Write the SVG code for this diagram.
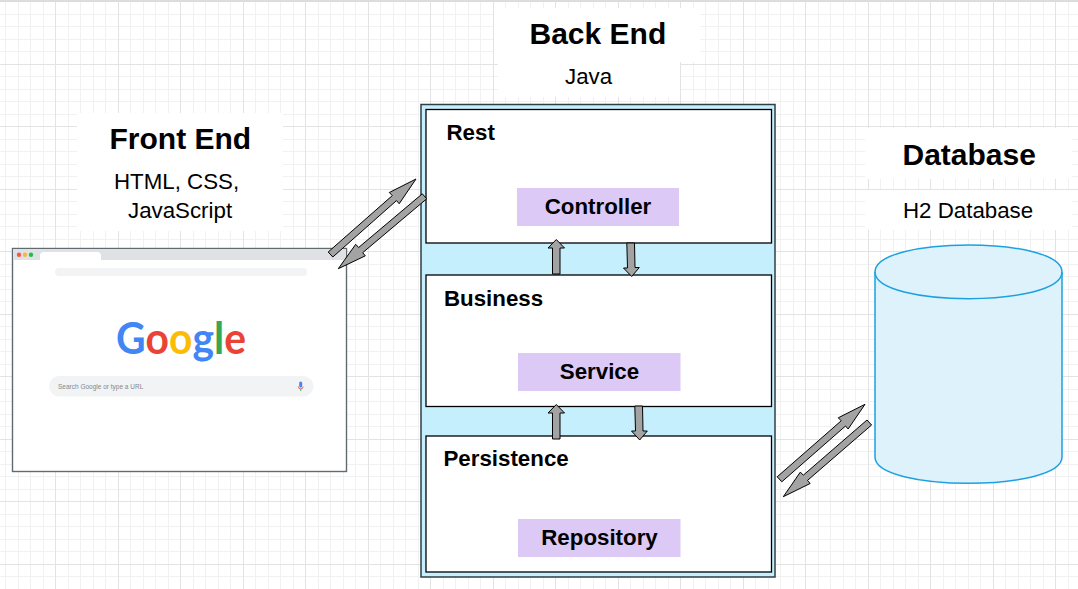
<svg xmlns="http://www.w3.org/2000/svg" width="1078" height="589" viewBox="0 0 1078 589">
<style>
text{font-family:"Liberation Sans",Arial,sans-serif;fill:#000}
.h{font-size:30px;font-weight:700}
.s{font-size:22.3px}
.b{font-size:22.3px;font-weight:700}
.w{fill:#fff}
.layer{fill:#fff;stroke:#000;stroke-width:1.3}
.tag{fill:#dcc9f6}
.ar{fill:#a3a3a3;stroke:#000;stroke-width:1;stroke-linejoin:miter}
.logo{font-family:"Lato","Open Sans",sans-serif;font-size:40.8px;font-weight:700}
</style>
<defs>
<pattern id="minor" x="5" y="1" width="25" height="25" patternUnits="userSpaceOnUse"><path d="M.5 0V25M13.500 0V25M0 .5H25M0 13.500H25" fill="none" stroke="#f1f1f1" stroke-width="1"/></pattern>
<pattern id="major" x="55" y="1" width="125" height="125" patternUnits="userSpaceOnUse"><path d="M.5 0V125M63.500 0V125M0 .5H125M0 63.500H125" fill="none" stroke="#e3e3e3" stroke-width="1"/></pattern>
</defs>
<g id="background">
<rect width="1078" height="589" fill="#fff"/>
<rect width="1078" height="589" fill="url(#minor)"/>
<rect width="1078" height="589" fill="url(#major)"/>
<rect width="1078" height="2" fill="#dcdcdc"/>
</g>
<g id="front-end-label">
<rect class="w" x="77" y="113" width="206" height="118"/>
<text class="h" x="109.500" y="149">Front End</text>
<text class="s" x="114" y="188.500">HTML, CSS,</text>
<text class="s" x="128" y="217.500">JavaScript</text>
</g>
<g id="browser">
<rect x="12.500" y="248.500" width="334" height="223" fill="#fff" stroke="#5f6b70" stroke-width="1.400"/>
<rect x="13" y="249" width="333" height="11" fill="#dfe1e5"/>
<path d="M40 260V256Q40 252 44 252H97Q101 252 101 256V260Z" fill="#fff"/>
<circle cx="19" cy="254.700" r="2.200" fill="#f2564e"/>
<circle cx="25" cy="254.700" r="2.200" fill="#f5b93e"/>
<circle cx="31" cy="254.700" r="2.200" fill="#1fc04a"/>
<rect x="55" y="268" width="252" height="8" rx="4" fill="#f1f3f4"/>
<text class="logo" transform="translate(116 354) scale(1 1.09)"><tspan fill="#4285f4">G</tspan><tspan fill="#ea4335">o</tspan><tspan fill="#fbbc05">o</tspan><tspan fill="#4285f4">g</tspan><tspan fill="#34a853">l</tspan><tspan fill="#ea4335">e</tspan></text>
<rect x="49" y="376" width="264.500" height="20.500" rx="10.250" fill="#f1f3f4"/>
<text x="58" y="388.500" font-size="6.500" style="fill:#85888c">Search Google or type a URL</text>
<rect x="299.200" y="381.500" width="3" height="6" rx="1.500" fill="#4285f4"/>
<path d="M298.300 386.500a2.400 2.400 0 0 0 4.800 0" fill="none" stroke="#ea4335" stroke-width=".8"/>
<rect x="300.300" y="389" width=".9" height="2" fill="#34a853"/>
</g>
<g id="back-end-label">
<rect class="w" x="494" y="8" width="206" height="54"/>
<rect class="w" x="498" y="58" width="182" height="39"/>
<text class="h" x="529.500" y="43.500">Back End</text>
<text class="s" x="565" y="84">Java</text>
</g>
<g id="back-end">
<rect x="421" y="104.500" width="354" height="472.500" fill="#c5effd" stroke="#2f3f45" stroke-width="1.500"/>
</g>
<g id="rest">
<rect class="layer" x="426" y="109.500" width="345.500" height="133.500"/>
<text class="b" x="446.500" y="140">Rest</text>
<rect class="tag" x="517" y="188" width="162" height="38"/>
<text class="b" x="598" y="214" text-anchor="middle">Controller</text>
</g>
<g id="business">
<rect class="layer" x="426" y="275" width="345.500" height="131.500"/>
<text class="b" x="444" y="306">Business</text>
<rect class="tag" x="518" y="353" width="162.500" height="38"/>
<text class="b" x="599.500" y="379" text-anchor="middle">Service</text>
</g>
<g id="persistence">
<rect class="layer" x="426" y="436" width="345.500" height="136"/>
<text class="b" x="443.500" y="466">Persistence</text>
<rect class="tag" x="518" y="519" width="162.500" height="38"/>
<text class="b" x="599.500" y="545" text-anchor="middle">Repository</text>
</g>
<g id="database-label">
<rect class="w" x="865" y="128" width="207" height="51"/>
<rect class="w" x="865" y="190" width="207" height="40"/>
<text class="h" x="902.500" y="165">Database</text>
<text class="s" x="903" y="217.500">H2 Database</text>
</g>
<g id="database">
<path d="M875 272C875 236 1062 236 1062 272V457C1062 492 875 492 875 457Z" fill="#def2fc" stroke="#1ba1e2" stroke-width="1.500"/>
<path d="M875 272C875 307.500 1062 307.500 1062 272" fill="none" stroke="#1ba1e2" stroke-width="1.500"/>
</g>
<g id="connectors">
<polygon class="ar" points="328.200,252 392.300,195.600 389.300,192.500 416,179 399.200,203.700 396.500,200.600 332.800,257"/>
<polygon class="ar" points="422.300,193.800 358.600,247.500 355.700,244.350 338.300,268.700 365.300,255.850 362.700,252.700 426.700,198.800"/>
<polygon class="ar" points="777.200,476.800 841.200,420.800 838.250,417.800 865,404.300 848.150,429 845.500,426 781.800,481.800"/>
<polygon class="ar" points="867,420 803.300,475.200 800.350,472.100 783.300,496.700 810.150,483.500 807.500,480.400 871.600,425"/>
<polygon class="ar" points="552.500,274 552.500,248 548,248 556.300,239.500 564.500,248 560,248 560,274"/>
<polygon class="ar" points="626.800,243 627.500,268 623.500,268 631.700,276.500 639.300,267.500 635,267.500 634.500,243"/>
<polygon class="ar" points="552.500,439 552.500,413 548,413 556.300,404.500 564.500,413 560,413 560,439"/>
<polygon class="ar" points="634.800,406 635.500,431 631.500,431 639.700,440 647.300,431 643,431 642.500,406"/>
</g>
</svg>
